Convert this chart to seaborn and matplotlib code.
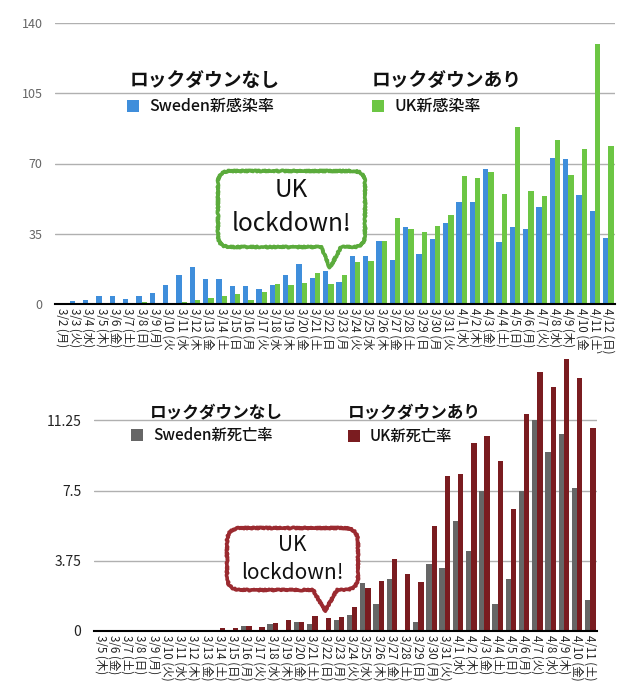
import pandas as pd
import seaborn as sns
import matplotlib
matplotlib.use('Agg')
from matplotlib import pyplot as plt
from matplotlib.patches import Rectangle, PathPatch
from matplotlib.path import Path

# dates (2020) for the infection chart
dates = ['3/2 (月)', '3/3 (火)', '3/4 (水)', '3/5 (木)', '3/6 (金)', '3/7 (土)', '3/8 (日)',
         '3/9 (月)', '3/10 (火)', '3/11 (水)', '3/12 (木)', '3/13 (金)', '3/14 (土)', '3/15 (日)',
         '3/16 (月)', '3/17 (火)', '3/18 (水)', '3/19 (木)', '3/20 (金)', '3/21 (土)', '3/22 (日)',
         '3/23 (月)', '3/24 (火)', '3/25 (水)', '3/26 (木)', '3/27 (金)', '3/28 (土)', '3/29 (日)',
         '3/30 (月)', '3/31 (火)', '4/1 (水)', '4/2 (木)', '4/3 (金)', '4/4 (土)', '4/5 (日)',
         '4/6 (月)', '4/7 (火)', '4/8 (水)', '4/9 (木)', '4/10 (金)', '4/11 (土)', '4/12 (日)']

sweden_cases = [0, 1.5, 2, 4, 4, 2.5, 4, 5.5, 9.5, 14.5, 18.5, 12.5, 12.5, 9, 9, 7.5, 9.5, 14.5,
                20, 13, 16.5, 11, 24, 24, 31.5, 22, 38.5, 25, 32.5, 40.5, 51, 51, 67.5, 31, 38.5,
                37.5, 48.5, 72.5, 72, 54.5, 46.5, 33]
uk_cases = [0, 0, 0.3, 0, 0.3, 0.3, 1, 0.3, 0.3, 1, 2, 3, 4, 5, 2, 6, 10, 9.5, 10.5, 15.5, 10,
            14.5, 21, 21.5, 31.5, 43, 37.5, 36, 39, 44.5, 64, 63, 66, 55, 88, 56.5, 54, 81.5,
            64.5, 77, 129.5, 78.5]

# dates for the death chart: 3/5 .. 4/11
death_dates = dates[3:41]
sweden_deaths = [0, 0, 0, 0, 0, 0, 0, 0, 0, 0.05, 0.05, 0.27, 0, 0.37, 0.05, 0.46, 0.36, 0.04,
                 0.57, 0.84, 2.54, 1.42, 2.76, 0, 0.46, 3.56, 3.34, 5.85, 4.25, 7.5, 1.42, 2.76,
                 7.5, 11.29, 9.53, 10.49, 7.61, 1.63]
uk_deaths = [0, 0, 0, 0, 0, 0, 0, 0, 0, 0.16, 0.16, 0.27, 0.2, 0.43, 0.57, 0.46, 0.78, 0.68,
             0.73, 1.26, 2.28, 2.65, 3.82, 3.02, 2.6, 5.58, 8.3, 8.36, 10.06, 10.42, 9.1, 6.49,
             11.61, 13.85, 13.0, 14.5, 13.53, 10.86]

blue, green = '#3f8edb', '#6cc644'
gray, darkred = '#666666', '#7a1c20'

sns.set_theme(style='white')
plt.rcParams['font.family'] = ['Noto Sans CJK JP', 'DejaVu Sans']

W, H = 630, 696
fig = plt.figure(figsize=(W / 100, H / 100), dpi=100)


def fx(x):
    return x / W


def fy(y):
    return 1 - y / H


def style(ax, ticks, labels, ycolor, ysize):
    ax.set_xlabel('')
    ax.set_ylabel('')
    ax.set_yticks(ticks)
    ax.set_yticklabels(labels)
    for s in ['top', 'right', 'left']:
        ax.spines[s].set_visible(False)
    ax.spines['bottom'].set_color('black')
    ax.spines['bottom'].set_linewidth(1.5)
    ax.yaxis.grid(True, color='#b0b0b0', lw=1)
    ax.xaxis.grid(False)
    ax.set_axisbelow(True)
    ax.tick_params(axis='both', length=0)
    ax.tick_params(axis='x', labelrotation=-90, labelsize=8.3, pad=3, labelcolor='#222222')
    ax.tick_params(axis='y', labelsize=ysize, labelcolor=ycolor, pad=9)


def bubble(x0, y0, x1, y1, r, b0, b1, tx, ty, color):
    pts = [(x0 + r, y0), (x1 - r, y0), (x1, y0), (x1, y0 + r), (x1, y1 - r), (x1, y1),
           (x1 - r, y1), (b1, y1), (tx, ty), (b0, y1), (x0 + r, y1), (x0, y1), (x0, y1 - r),
           (x0, y0 + r), (x0, y0), (x0 + r, y0), (x0 + r, y0)]
    codes = [Path.MOVETO, Path.LINETO, Path.CURVE3, Path.CURVE3, Path.LINETO, Path.CURVE3,
             Path.CURVE3, Path.LINETO, Path.LINETO, Path.LINETO, Path.LINETO, Path.CURVE3,
             Path.CURVE3, Path.LINETO, Path.CURVE3, Path.CURVE3, Path.CLOSEPOLY]
    verts = [(fx(x), fy(y)) for x, y in pts]
    patch = PathPatch(Path(verts, codes), transform=fig.transFigure, facecolor='white',
                      edgecolor=color, lw=2.6, joinstyle='round')
    patch.set_sketch_params(scale=0.7, length=1.2, randomness=2)
    fig.add_artist(patch)


def legend_entry(x, y, title, label, color, tsize, lsize, title_x, title_y):
    fig.text(fx(title_x), fy(title_y), title, fontsize=tsize, fontweight='bold',
             ha='left', va='center', color='#111111')
    fig.add_artist(Rectangle((fx(x), fy(y + 6)), 12 / W, 12 / H, transform=fig.transFigure,
                             facecolor=color, edgecolor='none'))
    fig.text(fx(x + 22), fy(y), label, fontsize=lsize, fontweight='medium',
             ha='left', va='center', color='#111111')


# --- top: new infection rate ---
top = pd.DataFrame({'date': dates * 2,
                    'rate': sweden_cases + uk_cases,
                    'country': ['Sweden'] * len(dates) + ['UK'] * len(dates)})
ax1 = fig.add_axes([fx(55), fy(304), (615 - 55) / W, (304 - 23) / H])
sns.barplot(data=top, x='date', y='rate', hue='country', order=dates,
            palette=[blue, green], saturation=1, width=0.8, errorbar=None,
            linewidth=0, legend=False, ax=ax1)
ax1.set_ylim(0, 140)
style(ax1, [0, 35, 70, 105, 140], ['0', '35', '70', '105', '140'], '#666666', 9)

# --- bottom: new death rate ---
bottom = pd.DataFrame({'date': death_dates * 2,
                       'rate': sweden_deaths + uk_deaths,
                       'country': ['Sweden'] * len(death_dates) + ['UK'] * len(death_dates)})
ax2 = fig.add_axes([fx(94), fy(631), (597 - 94) / W, (631 - 350) / H])
sns.barplot(data=bottom, x='date', y='rate', hue='country', order=death_dates,
            palette=[gray, darkred], saturation=1, width=0.8, errorbar=None,
            linewidth=0, legend=False, ax=ax2)
ax2.set_ylim(0, 15)
style(ax2, [0, 3.75, 7.5, 11.25], ['0', '3.75', '7.5', '11.25'], '#222222', 10)

# legends
legend_entry(127, 106, 'ロックダウンなし', 'Sweden新感染率', blue, 13.5, 11.5, 130, 80)
legend_entry(372, 106, 'ロックダウンあり', 'UK新感染率', green, 13.5, 11.5, 372, 80)
legend_entry(131, 435, 'ロックダウンなし', 'Sweden新死亡率', gray, 12, 11, 150, 412)
legend_entry(348, 436, 'ロックダウンあり', 'UK新死亡率', darkred, 12, 11, 348, 412)

# callouts
bubble(218, 171, 365, 247, 12, 321, 341, 330, 268, '#5bab3c')
fig.text(fx(291), fy(190), 'UK', fontsize=17.5, ha='center', va='center', color='#111111')
fig.text(fx(292), fy(224), 'lockdown!', fontsize=17.5, ha='center', va='center', color='#111111')

bubble(227, 528, 358, 590, 14, 313, 337, 325, 611, '#9b2a30')
fig.text(fx(292), fy(545), 'UK', fontsize=15, ha='center', va='center', color='#111111')
fig.text(fx(292), fy(573), 'lockdown!', fontsize=15, ha='center', va='center', color='#111111')

fig.savefig('out.png', dpi=100, facecolor='white')
